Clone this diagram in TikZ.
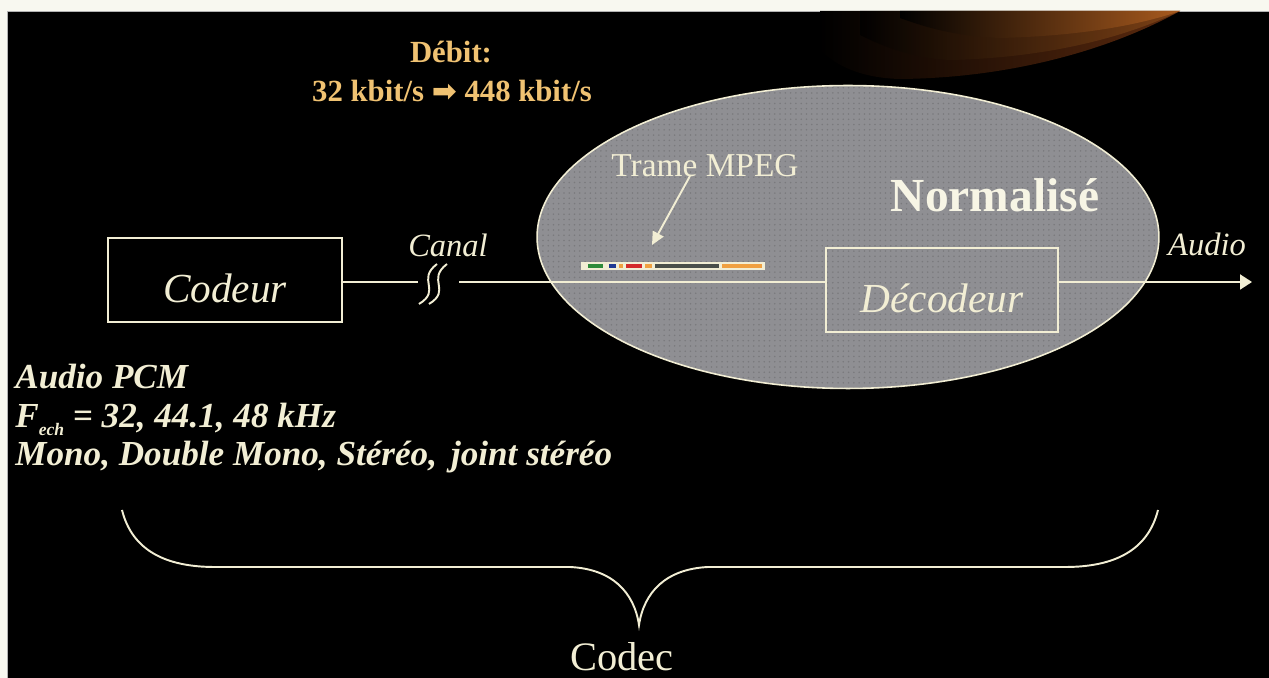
\documentclass[tikz,border=0pt]{standalone}
\usepackage{fontspec}
\setmainfont{Liberation Serif}
\newfontfamily\symfont{DejaVu Sans}
\usetikzlibrary{shapes.geometric, arrows.meta, positioning, patterns, calc}
\definecolor{Slide_Paper}{HTML}{F8F8F0}
\definecolor{Slide_Cream}{HTML}{F2EED4}
\definecolor{Slide_Gold}{HTML}{F0C272}
\definecolor{Slide_Gray}{HTML}{8F8F93}
\definecolor{Slide_Rust}{HTML}{A85A1E}
\definecolor{Slide_Ember}{HTML}{5C2A0E}
\definecolor{Bar_Green}{HTML}{2E8B3A}
\definecolor{Bar_Blue}{HTML}{1F3A93}
\definecolor{Bar_Red}{HTML}{D42A2A}
\definecolor{Bar_Orange}{HTML}{F0A040}
\definecolor{Bar_Dark}{HTML}{4A4F4A}

\tikzset{
  blockbox/.style={draw=Slide_Cream, line width=1.1pt, minimum height=1.68cm,
    text=Slide_Cream, font=\fontsize{23.5}{26}\selectfont\itshape,
    text height=0.9cm, text depth=0pt},
  flow/.style={draw=Slide_Cream, line width=1.1pt},
  pointer/.style={flow, -{Triangle[length=0.26cm, width=0.24cm]}},
  outarrow/.style={flow, -{Triangle[length=0.24cm, width=0.3cm]}},
  smalllabel/.style={text=Slide_Cream, inner sep=0pt, font=\fontsize{18.5}{20}\selectfont\itshape},
  ratelabel/.style={text=Slide_Gold, inner sep=0pt, font=\fontsize{17.5}{20}\selectfont\bfseries},
  pcmlabel/.style={text=Slide_Cream, inner sep=0pt, anchor=base west,
    font=\fontsize{20}{22}\selectfont\bfseries\itshape},
  normzone/.style={ellipse, draw=Slide_Cream, line width=0.9pt, inner sep=0pt,
    minimum width=12.44cm, minimum height=6.06cm,
    preaction={fill=Slide_Gray}, pattern=dots, pattern color=Slide_Gray!85!black},
}

\begin{document}
\begin{tikzpicture}[x=0.02cm, y=-0.02cm]
    % Slide background
    \useasboundingbox (0,0) rectangle (1269,678);
    \fill[Slide_Paper] (0,0) rectangle (1269,678);
    \fill[black, draw=gray!60, line width=0.4pt] (7,11) rectangle (1269,678);

    % Swoosh in the corner
    \shade[left color=black, right color=Slide_Ember]
        (820,11) -- (1180,11) .. controls (1110,50) and (1010,78) .. (900,79)
        .. controls (860,78) and (835,65) .. (820,50) -- cycle;
    \shade[left color=black, right color=Slide_Rust!80!black, opacity=0.8]
        (860,11) -- (1180,11) .. controls (1120,40) and (1040,58) .. (950,60)
        .. controls (910,58) and (880,45) .. (860,35) -- cycle;
    \shade[left color=black, right color=Slide_Rust]
        (900,11) -- (1180,11) .. controls (1140,25) and (1080,36) .. (1000,38)
        .. controls (950,36) and (920,25) .. (900,18) -- cycle;

    % Rate
    \node[ratelabel, anchor=base] (debit) at (451,63) {Débit:};
    \node[ratelabel, anchor=base] (rate) at (452,102)
        {32 kbit/s {\symfont\fontsize{17}{17}\selectfont ➡} 448 kbit/s};

    % Standardised part
    \node[normzone] (zone) at (848,237) {};
    \node[text=Slide_Cream!60!white, inner sep=0pt, anchor=base,
        font=\fontsize{27}{30}\selectfont\bfseries] (norm) at (995,212) {Normalisé};
    \node[text=Slide_Cream, inner sep=0pt, anchor=base,
        font=\fontsize{19}{21}\selectfont] (trame) at (705,177) {Trame MPEG};

    % MPEG frame
    \node[draw=Slide_Cream, fill=Slide_Cream, line width=0.6pt, inner sep=0pt,
        minimum width=3.64cm, minimum height=0.14cm] (frame) at (673,266) {};
    \fill[Bar_Green] (588,264) rectangle (603,268);
    \fill[Bar_Blue] (609,264) rectangle (616,268);
    \fill[Bar_Orange] (619,264) rectangle (623,268);
    \fill[Bar_Red] (626,264) rectangle (642,268);
    \fill[Bar_Orange] (645,264) rectangle (652,268);
    \fill[Bar_Dark] (655,264) rectangle (719,268);
    \fill[Bar_Orange] (722,264) rectangle (762,268);
    \coordinate (trametail) at (690,176);
    \coordinate (trametip) at (652,245);
    \draw[pointer] (trametail) -- (trametip);

    % Blocks
    \node[blockbox, minimum width=4.68cm] (codeur) at (225,280) {Codeur};
    \node[blockbox, minimum width=4.64cm] (decodeur) at (942,290) {Décodeur};

    % Channel with break
    \coordinate (brkL) at (418,282);
    \coordinate (brkR) at (459,282);
    \draw[flow] (codeur.east |- brkL) -- (brkL);
    \draw[flow] (419,304) .. controls (442,290) and (416,280) .. (437,264);
    \draw[flow] (429,304) .. controls (452,290) and (426,280) .. (447,264);
    \draw[flow] (brkR) -- (decodeur.west |- brkR);
    \node[smalllabel, anchor=base] (canal) at (448,257) {Canal};

    % Output
    \coordinate (audioend) at (1252,282);
    \draw[outarrow] (decodeur.east |- audioend) -- (audioend);
    \node[smalllabel, anchor=base] (audio) at (1207,256) {Audio};

    % Input format
    \node[pcmlabel] (pcm) at (15,389) {Audio PCM};
    \node[pcmlabel] (fech) at (15,428)
        {F\raisebox{-0.45ex}{\fontsize{10}{10}\selectfont ech} = 32, 44.1, 48 kHz};
    \node[pcmlabel] (modes) at (15,466) {Mono, Double Mono, Stéréo,\hspace{0.4em}joint stéréo};

    % Codec brace
    \draw[flow] (122,510) .. controls (132,550) and (165,567) .. (215,567) -- (570,567)
        .. controls (612,569) and (634,592) .. (639,625)
        .. controls (644,592) and (666,569) .. (708,567) -- (1065,567)
        .. controls (1115,567) and (1148,550) .. (1158,510);
    \node[text=Slide_Cream, inner sep=0pt, anchor=base,
        font=\fontsize{23}{25}\selectfont] (codec) at (622,671) {Codec};
\end{tikzpicture}
\end{document}
